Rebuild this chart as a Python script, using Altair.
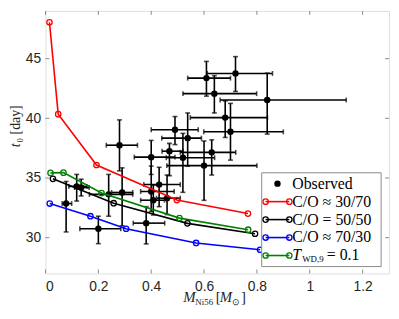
import altair as alt
import pandas as pd

# ---------------- data ----------------
obs_x   = [0.28, 0.49, 0.538, 0.469, 0.40, 0.52, 0.629, 0.60, 0.609, 0.719, 0.639, 0.839, 0.68, 0.70,
           0.078, 0.118, 0.135, 0.239, 0.29, 0.20, 0.381, 0.40, 0.43, 0.408, 0.46]
obs_y   = [37.75, 39.05, 38.34, 37.25, 36.75, 36.7, 37.15, 36.04, 43.37, 43.76, 42.07, 41.54, 40.06, 38.87,
           32.86, 34.3, 34.2, 33.63, 33.79, 30.75, 31.22, 33.87, 34.45, 33.14, 33.31]
obs_xlo = [0.23, 0.40, 0.44, 0.441, 0.336, 0.457, 0.51, 0.459, 0.538, 0.612, 0.52, 0.661, 0.548, 0.599,
           0.063, 0.088, 0.11, 0.166, 0.25, 0.13, 0.332, 0.36, 0.372, 0.36, 0.42]
obs_xhi = [0.348, 0.578, 0.59, 0.52, 0.49, 0.64, 0.72, 0.80, 0.70, 0.859, 0.799, 1.138, 0.84, 0.90,
           0.099, 0.157, 0.165, 0.33, 0.33, 0.285, 0.451, 0.487, 0.51, 0.45, 0.51]
obs_ylo = [35.6, 37.8, 36.0, 35.2, 35.3, 33.8, 35.25, 33.13, 41.86, 42.25, 40.45, 38.68, 38.4, 36.5,
           30.48, 33.07, 33.5, 31.8, 31.0, 29.5, 29.48, 32.2, 32.6, 31.9, 31.94]
obs_yhi = [39.87, 40.15, 40.45, 37.9, 38.15, 38.74, 38.2, 38.1, 44.77, 45.17, 43.58, 43.79, 41.46, 41.25,
           34.71, 35.3, 34.9, 35.3, 35.85, 31.8, 32.6, 36.0, 35.9, 34.4, 35.25]

red_x   = [0.015, 0.048, 0.193, 0.497, 0.766]
red_y   = [48.05, 40.35, 36.09, 33.15, 32.02]
black_x = [0.028, 0.258, 0.537, 0.793]
black_y = [34.93, 32.89, 31.2, 30.33]
blue_x  = [0.016, 0.17, 0.305, 0.57, 0.812]
blue_y  = [32.86, 31.8, 30.75, 29.56, 28.99]
green_x = [0.019, 0.068, 0.212, 0.507, 0.767]
green_y = [35.43, 35.45, 33.74, 31.64, 30.67]

model_names  = ["C/O ≈ 30/70", "C/O = 50/50", "C/O ≈ 70/30", "T_WD,9 = 0.1"]
model_colors = ["#ff0000", "#000000", "#0000ff", "#008000"]

x_ticks = [0, 0.2, 0.4, 0.6, 0.8, 1.0, 1.2]
y_ticks = [30, 35, 40, 45]

legend_labels = ["Observed", "C/O ≈ 30/70", "C/O = 50/50", "C/O ≈ 70/30", ""]
legend_colors = ["#000000", "#ff0000", "#000000", "#0000ff", "#008000"]

# ---------------- layout ----------------
W, H = 348, 266
GRAY = "#8a8a8a"
TXT = "#262626"
SERIF = "Liberation Serif"

obs = pd.DataFrame({"x": obs_x, "y": obs_y, "xlo": obs_xlo, "xhi": obs_xhi,
                    "ylo": obs_ylo, "yhi": obs_yhi})
models = pd.concat([
    pd.DataFrame({"model": model_names[0], "x": red_x, "y": red_y}),
    pd.DataFrame({"model": model_names[1], "x": black_x, "y": black_y}),
    pd.DataFrame({"model": model_names[2], "x": blue_x, "y": blue_y}),
    pd.DataFrame({"model": model_names[3], "x": green_x, "y": green_y}),
])

xs = alt.Scale(domain=[0, 1.3], nice=False, zero=False)
ys = alt.Scale(domain=[27, 49], nice=False, zero=False)

base = alt.Chart(obs)
xaxis = alt.Axis(values=x_ticks, format="~g", ticks=False, domain=False, grid=False,
                 labelFont="Liberation Sans", labelFontSize=14, labelColor=TXT,
                 labelPadding=6, title=None)
yaxis = alt.Axis(values=y_ticks, ticks=False, domain=False, grid=False,
                 labelFont="Liberation Sans", labelFontSize=14, labelColor=TXT,
                 labelPadding=5, title=None)

hbar = base.mark_rule(color="black", strokeWidth=1.6).encode(
    x=alt.X("xlo:Q", scale=xs, axis=xaxis), x2="xhi:Q", y=alt.Y("y:Q", scale=ys, axis=yaxis))
vbar = base.mark_rule(color="black", strokeWidth=1.6).encode(
    x=alt.X("x:Q", scale=xs), y=alt.Y("ylo:Q", scale=ys), y2="yhi:Q")
hcap = base.transform_fold(["xlo", "xhi"], as_=["k", "v"]).mark_tick(
    orient="vertical", color="black", size=5, thickness=1.6).encode(
    x=alt.X("v:Q", scale=xs), y=alt.Y("y:Q", scale=ys))
vcap = base.transform_fold(["ylo", "yhi"], as_=["k", "v"]).mark_tick(
    orient="horizontal", color="black", size=5, thickness=1.6).encode(
    x=alt.X("x:Q", scale=xs), y=alt.Y("v:Q", scale=ys))
dots = base.mark_circle(color="black", size=42, opacity=1).encode(
    x=alt.X("x:Q", scale=xs), y=alt.Y("y:Q", scale=ys))

lines = alt.Chart(models).mark_line(
    strokeWidth=1.6,
    point=alt.OverlayMarkDef(filled=False, size=30, strokeWidth=1.3, opacity=1)
).encode(
    x=alt.X("x:Q", scale=xs), y=alt.Y("y:Q", scale=ys),
    color=alt.Color("model:N", scale=alt.Scale(domain=model_names, range=model_colors), legend=None),
    detail="model:N",
)

# inward ticks on all four sides
xt = alt.Chart(pd.DataFrame({"v": x_ticks}))
yt = alt.Chart(pd.DataFrame({"v": y_ticks}))
ticks = [
    xt.mark_rule(color=GRAY, strokeWidth=1).encode(x=alt.X("v:Q", scale=xs), y=alt.value(H), y2=alt.value(H - 4)),
    xt.mark_rule(color=GRAY, strokeWidth=1).encode(x=alt.X("v:Q", scale=xs), y=alt.value(0), y2=alt.value(4)),
    yt.mark_rule(color=GRAY, strokeWidth=1).encode(y=alt.Y("v:Q", scale=ys), x=alt.value(0), x2=alt.value(4)),
    yt.mark_rule(color=GRAY, strokeWidth=1).encode(y=alt.Y("v:Q", scale=ys), x=alt.value(W), x2=alt.value(W - 4)),
]

# ---------------- legend (drawn by hand) ----------------
LX, LY, LW, LH = W - 129, H - 102, 121, 95
leg = alt.Chart(pd.DataFrame({"label": legend_labels, "color": legend_colors,
                              "row": list(range(len(legend_labels)))})).transform_calculate(
    py=f"{LY} + 11 + datum.row * 18.2")
leg_rows = leg.transform_filter("datum.row > 0")
legend = [
    alt.Chart(pd.DataFrame({"a": [0]})).mark_rect(fill="white", stroke=GRAY, strokeWidth=1).encode(
        x=alt.value(LX), x2=alt.value(LX + LW), y=alt.value(LY), y2=alt.value(LY + LH)),
    leg_rows.mark_rule(strokeWidth=1.6).encode(
        x=alt.value(LX + 4), x2=alt.value(LX + 28), y=alt.Y("py:Q", scale=None),
        color=alt.Color("color:N", scale=None)),
    leg_rows.mark_point(filled=False, size=30, strokeWidth=1.3, opacity=1).encode(
        x=alt.value(LX + 4), y=alt.Y("py:Q", scale=None), color=alt.Color("color:N", scale=None)),
    leg_rows.mark_point(filled=False, size=30, strokeWidth=1.3, opacity=1).encode(
        x=alt.value(LX + 28), y=alt.Y("py:Q", scale=None), color=alt.Color("color:N", scale=None)),
    leg.transform_filter("datum.row == 0").mark_circle(size=42, opacity=1, color="black").encode(
        x=alt.value(LX + 16), y=alt.Y("py:Q", scale=None)),
    leg.mark_text(align="left", baseline="middle", font=SERIF, fontSize=16, color="black").encode(
        x=alt.value(LX + 31), y=alt.Y("py:Q", scale=None), text="label:N"),
]
ty = LY + 11 + 4 * 18.2
tw_parts = [("T", LX + 31, 16, "italic", 0), ("WD,9", LX + 41, 9, "normal", 4),
            ("= 0.1", LX + 66, 16, "normal", 0)]
for txt, px, fs, st, dy in tw_parts:
    legend.append(alt.Chart(pd.DataFrame({"t": [txt]})).mark_text(
        align="left", baseline="middle", font=SERIF, fontSize=fs, fontStyle=st, dy=dy,
        color="black").encode(x=alt.value(px), y=alt.value(ty), text="t:N"))

# ---------------- axis titles (composite text) ----------------
cx = W / 2
by = H + 29
title_parts = [("M", cx - 34.5, 15, "italic", 0), ("Ni56", cx - 22.2, 9, "normal", 3),
               ("[", cx - 1.5, 15, "normal", 0), ("M", cx + 2.5, 15, "italic", 0),
               ("⊙", cx + 14.5, 9, "normal", 3), ("]", cx + 24, 15, "normal", 0)]
titles = []
for txt, px, fs, st, dy in title_parts:
    titles.append(alt.Chart(pd.DataFrame({"t": [txt]})).mark_text(
        align="left", baseline="alphabetic", font=SERIF, fontSize=fs, fontStyle=st, dy=dy,
        color=TXT).encode(x=alt.value(px), y=alt.value(by), text="t:N"))
ymid = 120
titles.append(alt.Chart(pd.DataFrame({"t": ["t"]})).mark_text(
    align="left", baseline="alphabetic", font=SERIF, fontSize=14, fontStyle="italic", angle=270,
    color=TXT).encode(x=alt.value(-26), y=alt.value(ymid + 18), text="t:N"))
titles.append(alt.Chart(pd.DataFrame({"t": ["₀ [day]"]})).mark_text(
    align="left", baseline="alphabetic", font=SERIF, fontSize=14, angle=270,
    color=TXT).encode(x=alt.value(-26), y=alt.value(ymid + 13.5), text="t:N"))

chart = alt.layer(hbar, vbar, hcap, vcap, dots, lines, *ticks, *legend, *titles).properties(
    width=W, height=H,
    autosize=alt.AutoSizeParams(type="none"),
    padding={"left": 38, "top": 1, "right": 2, "bottom": 33},
).configure_view(stroke=GRAY, strokeWidth=1).configure(background="white")

chart.save("out.html", embed_options={"renderer": "svg", "actions": False})
